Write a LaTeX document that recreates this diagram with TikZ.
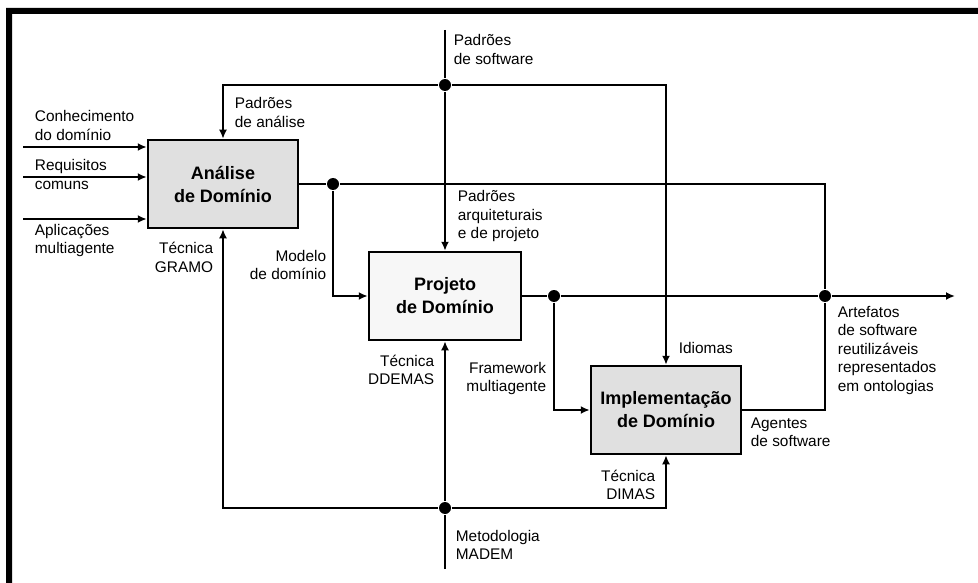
\documentclass[tikz,border=0pt]{standalone}
\usepackage{fontspec}
\setmainfont{Liberation Sans}
\usetikzlibrary{arrows.meta}
\begin{document}
\begin{tikzpicture}[>={Latex[length=9pt,width=8pt]},x=1pt,y=-1pt,line width=1.8pt,
	font=\fontsize{15.4}{18.5}\selectfont,
	dominio/.style={draw,line width=2.5pt,minimum width=150pt,minimum height=88pt,align=center,font=\fontsize{18}{23}\selectfont\bfseries},
	rotulo/.style={inner sep=0pt,align=left,anchor=base west},
	rotulod/.style={inner sep=0pt,align=right,anchor=base east},
	ponto/.style={circle,fill,inner sep=0pt,minimum size=12pt}]
	\useasboundingbox (0,0) rectangle (978,583);
	\fill (6,8) rectangle (978,14) (6,8) rectangle (12,583); % moldura
	% as tres etapas
	\node[dominio,fill=black!12] (analise) at (223,184) {Análise\\de Domínio};
	\node[dominio,fill=black!3,minimum width=152pt] (projeto) at (445,296) {Projeto\\de Domínio};
	\node[dominio,fill=black!12] (impl) at (666,410) {Implementação\\de Domínio};
	% pontos de juncao
	\node[ponto] (pA) at (333,184) {};
	\node[ponto] (pSoft) at (445,85) {};
	\node[ponto] (pProj) at (554,296) {};
	\node[ponto] (pSaida) at (825,296) {};
	\node[ponto] (pMet) at (445,508) {};
	\coordinate (e1) at (23,147); \coordinate (e2) at (23,177); \coordinate (e3) at (23,219);
	\coordinate (topo) at (445,30); \coordinate (base) at (445,569); \coordinate (fim) at (955,296);
	% entradas
	\draw[->] (e1) -- (e1 -| analise.west);
	\draw[->] (e2) -- (e2 -| analise.west);
	\draw[->] (e3) -- (e3 -| analise.west);
	% padroes de software
	\draw (topo) -- (pSoft);
	\draw[->] (pSoft) -- (projeto.north);
	\draw[->] (pSoft) -| (analise.north);
	\draw[->] (pSoft) -| (impl.north);
	% saidas
	\draw (analise.east) -- (pA) -- (pA -| pSaida) -- (pSaida);
	\draw[->] (pA) |- (projeto.west);
	\draw (projeto.east) -- (pProj) -- (pSaida);
	\draw[->] (pSaida) -- (fim);
	\draw[->] (pProj) |- (impl.west);
	\draw (impl.east) -| (pSaida);
	% metodologia
	\draw (base) -- (pMet);
	\draw[->] (pMet) -- (projeto.south);
	\draw[->] (pMet) -| (analise.south);
	\draw[->] (pMet) -| (impl.south);
	% rotulos (base = ultima linha)
	\node[rotulo] (lConh) at (34,140.5) {Conhecimento\\do domínio};
	\node[rotulo] (lReq) at (34,189.5) {Requisitos\\comuns};
	\node[rotulo] (lApl) at (34,253.5) {Aplicações\\multiagente};
	\node[rotulo] (lPadA) at (234,127.5) {Padrões\\de análise};
	\node[rotulo] (lPadS) at (453,64.5) {Padrões\\de software};
	\node[rotulod] (lGramo) at (214,272.5) {Técnica\\GRAMO};
	\node[rotulod] (lModelo) at (327,279.5) {Modelo\\de domínio};
	\node[rotulo] (lPadP) at (457,239) {Padrões\\arquiteturais\\e de projeto};
	\node[rotulod] (lDdemas) at (435,384.5) {Técnica\\DDEMAS};
	\node[rotulod] (lFrame) at (547,391.5) {Framework\\multiagente};
	\node[rotulo] (lIdiomas) at (678,353) {Idiomas};
	\node[rotulod] (lDimas) at (656,499.5) {Técnica\\DIMAS};
	\node[rotulo] (lMadem) at (455,559.5) {Metodologia\\MADEM};
	\node[rotulo] (lArt) at (837,391) {Artefatos\\de software\\reutilizáveis\\representados\\em ontologias};
	\node[rotulo] (lAgentes) at (750,446.5) {Agentes\\de software};
\end{tikzpicture}
\end{document}
